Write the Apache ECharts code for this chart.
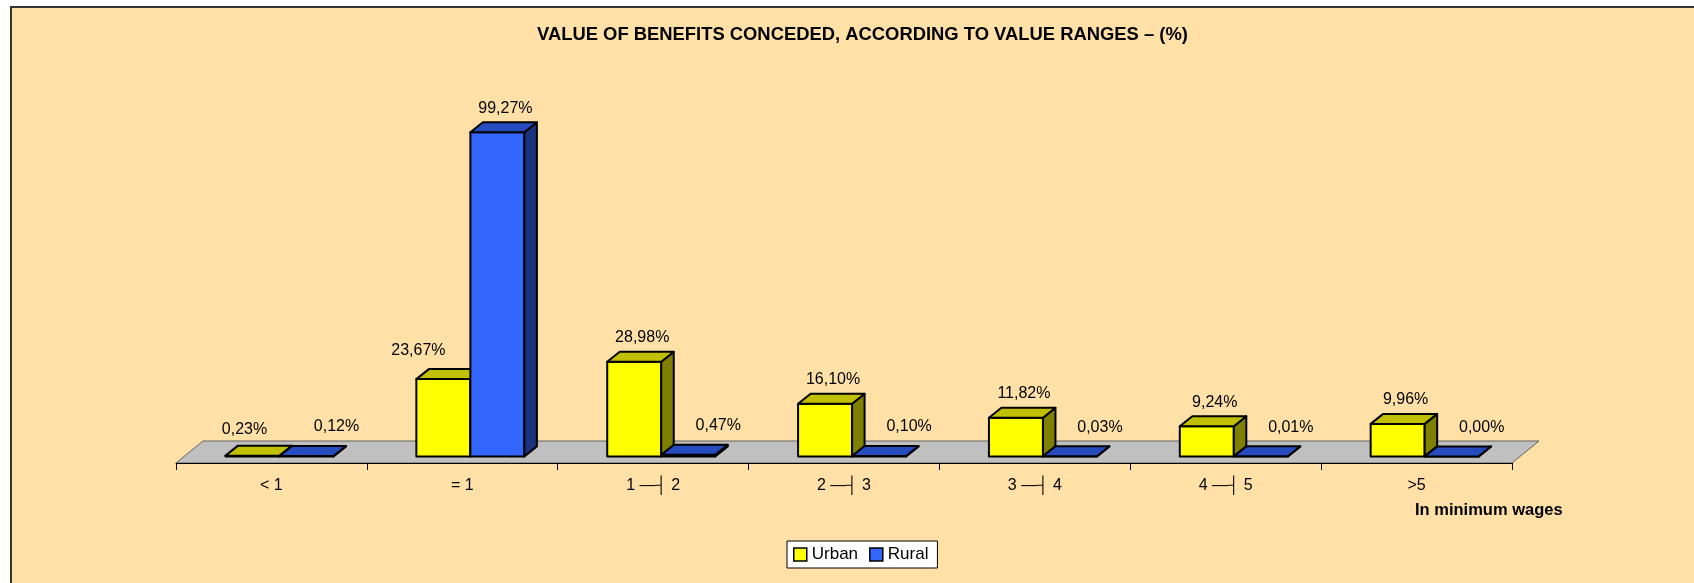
<!DOCTYPE html>
<html>
<head>
<meta charset="utf-8">
<script src="https://cdn.jsdelivr.net/npm/echarts@6/dist/echarts.min.js"></script>
<style>
html,body{margin:0;padding:0;background:#fff;}
#chart{width:1694px;height:583px;}
</style>
</head>
<body>
<div id="chart"></div>
<script>
const categories = ['< 1', '= 1', '1 \u2014\u2524 2', '2 \u2014\u2524 3', '3 \u2014\u2524 4', '4 \u2014\u2524 5', '>5'];
const urban = [0.23, 23.67, 28.98, 16.10, 11.82, 9.24, 9.96];
const rural = [0.12, 99.27, 0.47, 0.10, 0.03, 0.01, 0.00];
const seriesNames = ['Urban', 'Rural'];

const FONT = "'Liberation Sans', Arial, sans-serif";
const colorsU = { front: '#FFFF00', top: '#C0C000', side: '#808000' };
const colorsR = { front: '#3366FF', top: '#264CC0', side: '#1A3380' };

function fmt(v) { return v.toFixed(2).replace('.', ',') + '%'; }

function barRenderer(sIdx, own, partner, col) {
  return function (params, api) {
    const ci = api.value(0), v = api.value(1);
    const base = api.coord([ci, 0]);
    const topP = api.coord([ci, v]);
    const catW = api.size([1, 0])[0];
    const bw = catW * 0.283;
    const f1x = catW * 0.0424, f1y = -catW * 0.0346;
    const dxb = catW * 0.0655, dyb = -catW * 0.0524;
    const x0 = base[0] + f1x + (sIdx === 0 ? -bw : 0);
    const yb = base[1] + f1y, yt = topP[1] + f1y;
    const st = { stroke: '#000', lineWidth: 2, lineJoin: 'round' };
    const smaller = own[params.dataIndex] < partner[params.dataIndex];
    const flat = v < 1;
    let lx = x0 + bw / 2 + (flat ? -8 : 8);
    let ly = yt + dyb - (flat ? 16 : 14);
    if (smaller) {
      lx = x0 + bw / 2 + (sIdx === 0 ? -25 : 30);
      ly = yt + dyb - 19;
    }
    return {
      type: 'group',
      children: [
        { type: 'rect', shape: { x: x0, y: yt, width: bw, height: Math.max(yb - yt, 0) },
          style: Object.assign({ fill: col.front }, st) },
        { type: 'polygon', shape: { points: [[x0 + bw, yt], [x0 + bw, yb], [x0 + bw + dxb, yb + dyb], [x0 + bw + dxb, yt + dyb]] },
          style: Object.assign({ fill: col.side }, st) },
        { type: 'polygon', shape: { points: [[x0, yt], [x0 + bw, yt], [x0 + bw + dxb, yt + dyb], [x0 + dxb, yt + dyb]] },
          style: Object.assign({ fill: col.top }, st) },
        { type: 'text', z2: 10, style: { text: fmt(v), x: lx, y: ly, align: 'center', verticalAlign: 'middle',
          font: '16px ' + FONT, fill: '#000' } }
      ]
    };
  };
}

function floorRenderer(params, api) {
  const cs = params.coordSys;
  const catW = api.size([1, 0])[0];
  const dx = catW * 0.1414, dy = -catW * 0.1152;
  const yb = cs.y + cs.height;
  return {
    type: 'polygon',
    shape: { points: [[cs.x, yb], [cs.x + cs.width, yb], [cs.x + cs.width + dx, yb + dy], [cs.x + dx, yb + dy]] },
    style: { fill: '#C0C0C0', stroke: '#606060', lineWidth: 1 }
  };
}

const chart = echarts.init(document.getElementById('chart'), null, { renderer: 'canvas' });
chart.setOption({
  backgroundColor: '#ffffff',
  animation: false,
  graphic: [{
    type: 'rect', z: -10, silent: true,
    shape: { x: 11, y: 7, width: 1700, height: 600 },
    style: { fill: '#FFE1A8', stroke: '#333333', lineWidth: 2 }
  }],
  title: [{
    text: 'VALUE OF BENEFITS CONCEDED, ACCORDING TO VALUE RANGES \u2013 (%)',
    left: 537, top: 26, padding: 0,
    textStyle: { fontFamily: FONT, fontSize: 18.4, fontWeight: 'bold', color: '#000' }
  }, {
    text: 'In minimum wages',
    left: 1415, top: 502, padding: 0,
    textStyle: { fontFamily: FONT, fontSize: 16.5, fontWeight: 'bold', color: '#000' }
  }],
  legend: {
    left: 787, top: 541,
    padding: [5, 9, 5, 6],
    itemGap: 11, itemWidth: 13, itemHeight: 13, itemTextGap: 4,
    backgroundColor: '#ffffff', borderColor: '#000', borderWidth: 1,
    icon: 'rect',
    textStyle: { fontFamily: FONT, fontSize: 17, color: '#000' },
    data: [
      { name: seriesNames[0], itemStyle: { color: colorsU.front, borderColor: '#000', borderWidth: 1.5 } },
      { name: seriesNames[1], itemStyle: { color: colorsR.front, borderColor: '#000', borderWidth: 1.5 } }
    ]
  },
  grid: { left: 176, right: 182, top: 136.5, bottom: 120, containLabel: false },
  xAxis: {
    type: 'category', data: categories, boundaryGap: true, z: 5,
    axisLine: { lineStyle: { color: '#000', width: 1 } },
    axisTick: { show: true, length: 7, lineStyle: { color: '#000' } },
    axisLabel: { margin: 15, fontFamily: FONT, fontSize: 16, color: '#000' }
  },
  yAxis: { type: 'value', min: 0, max: 100, show: false, splitLine: { show: false } },
  series: [
    { type: 'custom', name: 'floor', z: 1, silent: true, data: [[0, 0]], renderItem: floorRenderer, encode: { x: 0, y: 1 } },
    { type: 'custom', name: seriesNames[0], z: 2, itemStyle: { color: colorsU.front },
      data: urban.map((v, i) => [i, v]), encode: { x: 0, y: 1 },
      renderItem: barRenderer(0, urban, rural, colorsU) },
    { type: 'custom', name: seriesNames[1], z: 3, itemStyle: { color: colorsR.front },
      data: rural.map((v, i) => [i, v]), encode: { x: 0, y: 1 },
      renderItem: barRenderer(1, rural, urban, colorsR) }
  ]
});
</script>
</body>
</html>
